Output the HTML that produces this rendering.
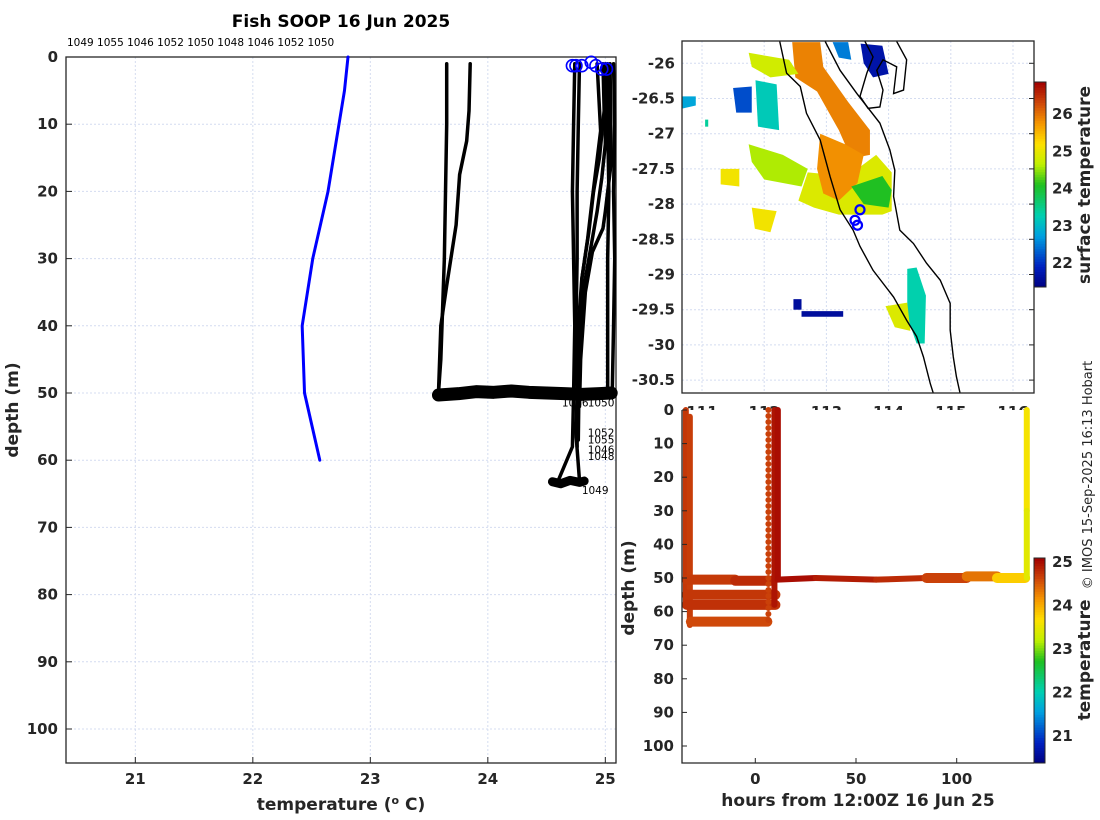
<!DOCTYPE html>
<html><head><meta charset="utf-8"><style>
html,body{margin:0;padding:0;background:#fff;}
svg{display:block;font-family:"DejaVu Sans","Liberation Sans",sans-serif;}
.tk{font-weight:bold;font-size:15px;fill:#262626;}
.ttl{font-weight:bold;font-size:17px;fill:#262626;}
</style></head><body>
<svg id="fig" width="1100" height="820" viewBox="0 0 1100 820" xmlns="http://www.w3.org/2000/svg">
<rect width="1100" height="820" fill="#fff"/>
<text x="341" y="27" text-anchor="middle" font-weight="bold" font-size="17" fill="#000">Fish SOOP 16 Jun 2025</text>
<text x="67" y="46" font-size="10.5" fill="#000">1049 1055 1046 1052 1050 1048 1046 1052 1050</text>
<text class="ttl" transform="translate(18,410) rotate(-90)" text-anchor="middle">depth (m)</text>
<text class="ttl" x="341" y="810" text-anchor="middle">temperature (<tspan font-size="11" dy="-6">o</tspan><tspan dy="6"> C)</tspan></text>
<text class="ttl" transform="translate(634,588) rotate(-90)" text-anchor="middle">depth (m)</text>
<text class="ttl" x="858" y="806" text-anchor="middle">hours from 12:00Z 16 Jun 25</text>
<text transform="translate(1092,475) rotate(-90)" text-anchor="middle" font-size="13" fill="#262626">© IMOS 15-Sep-2025 16:13 Hobart</text>
<text class="ttl" transform="translate(1090,185) rotate(-90)" text-anchor="middle">surface temperature</text>
<text class="ttl" transform="translate(1090,660) rotate(-90)" text-anchor="middle">temperature</text>
<g id="gL"></g><g id="gM"></g><g id="gB"></g>
</svg>
<script>
// ---------- data: left profile chart ----------
const tempTicks=[21,22,23,24,25];
const depthTicks=[0,10,20,30,40,50,60,70,80,90,100];
const blueTemp=[22.81,22.78,22.64,22.51,22.42,22.44,22.57];
const blueDepth=[0,5,20,30,40,50,60];
const prof1Temp=[23.65,23.65,23.64,23.63,23.61,23.6,23.58];
const prof1Depth=[1,10,20,30,40,45,50];
const prof2Temp=[23.85,23.84,23.82,23.76,23.73,23.65,23.6,23.58];
const prof2Depth=[1,8,12.5,17.5,25,34,40,50];
const prof3Temp=[24.93,24.96,24.89,24.85,24.8,24.77,24.76,24.76];
const prof3Depth=[1,11,21,27,33,40,50,58];
const prof4Temp=[25.0,25.0,24.97,24.93,24.88,24.82,24.78,24.77];
const prof4Depth=[1,13,18,23,28,34,43,57];
const prof5Temp=[25.04,25.05,25.0,24.98,24.89,24.83,24.79,24.78];
const prof5Depth=[1,15.7,23,25.5,29,35,45,52];
const prof6Temp=[24.74,24.73,24.72,24.73,24.74,24.73,24.72,24.6];
const prof6Depth=[1,10,20,30,40,50,58,63];
const prof7Temp=[24.78,24.77,24.76,24.76,24.75,24.76,24.75,24.78];
const prof7Depth=[1,10,20,30,40,50,56,63];
const prof8Temp=[25.02,25.02,25.03,25.02,25.02,25.02];
const prof8Depth=[1,10,20,30,40,50];
const prof9Temp=[25.07,25.08,25.07,25.08,25.07,25.06];
const prof9Depth=[1,10,20,30,40,49];
const prof10Temp=[24.98,24.99,24.95,24.9,24.86,24.8,24.78];
const prof10Depth=[1,8,15,20,26,33,45];
const band50Temp=[23.58,23.75,23.9,24.05,24.2,24.35,24.5,24.65,24.8,24.95,25.05];
const band50Depth=[50.3,50.1,49.8,49.9,49.7,49.9,50.0,50.1,50.2,50.1,50.0];
const band63Temp=[24.55,24.62,24.7,24.78,24.82];
const band63Depth=[63.2,63.5,63.0,63.3,63.1];
const circTemp=[24.72,24.75,24.8,24.88,24.92,24.97,25.01];
const circDepth=[1,1,1,0.5,1,1.5,1.5];
const idLabels=["1046","1050","1052","1055","1046","1048","1049"];
const idTemp=[24.63,24.85,24.85,24.85,24.85,24.85,24.8];
const idDepth=[52,52,56.5,57.5,59,60,65];

// ---------- data: map ----------
const lonTicks=[111,112,113,114,115,116];
const latTicks=[-26,-26.5,-27,-27.5,-28,-28.5,-29,-29.5,-30,-30.5];
const sstTicks=[22,23,24,25,26];
const patchTemp=[24.9,25.9,25.8,24.1,23.3,24.9,21.6,21.6,22.2,23.2,22.8,24.6,25.1,25.1,24.8,21.7,22.5,23.4];
const patchPoly=[
 [[112.7,-27.55],[113.3,-27.6],[113.5,-27.5],[113.8,-27.3],[114.05,-27.55],[114.05,-28.1],[113.9,-28.15],[113.2,-28.15],[112.8,-28.05],[112.55,-27.95]],
 [[112.45,-25.7],[112.9,-25.7],[112.95,-26.05],[113.35,-26.55],[113.7,-26.95],[113.7,-27.3],[113.4,-27.35],[113.2,-26.95],[112.85,-26.4],[112.5,-26.2]],
 [[112.9,-27.0],[113.3,-27.15],[113.6,-27.3],[113.5,-27.7],[113.2,-27.95],[112.95,-27.85],[112.85,-27.5]],
 [[113.4,-27.75],[113.9,-27.6],[114.05,-27.8],[114.0,-28.05],[113.6,-28.0]],
 [[114.3,-28.92],[114.45,-28.9],[114.6,-29.3],[114.58,-29.98],[114.45,-29.98],[114.3,-29.6]],
 [[113.95,-29.45],[114.3,-29.4],[114.35,-29.8],[114.1,-29.75]],
 [[112.47,-29.35],[112.6,-29.35],[112.6,-29.5],[112.47,-29.5]],
 [[112.6,-29.52],[113.27,-29.52],[113.27,-29.6],[112.6,-29.6]],
 [[111.5,-26.35],[111.8,-26.33],[111.8,-26.7],[111.55,-26.7]],
 [[111.86,-26.24],[112.2,-26.3],[112.24,-26.95],[111.9,-26.9]],
 [[110.6,-26.47],[110.9,-26.47],[110.9,-26.6],[110.6,-26.66]],
 [[111.75,-27.15],[112.3,-27.3],[112.7,-27.5],[112.6,-27.75],[112.0,-27.65],[111.8,-27.4]],
 [[111.3,-27.5],[111.6,-27.5],[111.6,-27.75],[111.3,-27.72]],
 [[111.8,-28.05],[112.2,-28.1],[112.1,-28.4],[111.85,-28.35]],
 [[111.75,-25.85],[112.4,-25.95],[112.55,-26.15],[112.1,-26.2],[111.8,-26.05]],
 [[113.55,-25.72],[113.9,-25.75],[114.0,-26.15],[113.75,-26.2],[113.6,-26.0]],
 [[113.1,-25.7],[113.35,-25.7],[113.4,-25.95],[113.2,-25.92]],
 [[111.05,-26.8],[111.1,-26.8],[111.1,-26.9],[111.05,-26.9]]
];
const coast1Lon=[112.25,112.36,112.58,112.68,112.9,113.06,113.22,113.43,113.54,113.75,114.08,114.29,114.45,114.56,114.67,114.72];
const coast1Lat=[-25.69,-26.14,-26.33,-26.71,-27.09,-27.61,-28.08,-28.37,-28.6,-28.94,-29.32,-29.65,-29.88,-30.17,-30.55,-30.69];
const coast2Lon=[112.98,113.22,113.49,113.86,114.02,114.1,114.08,114.18,114.4,114.61,114.83,114.99,114.99,115.04,115.09,115.15];
const coast2Lat=[-25.69,-26.1,-26.43,-26.85,-27.23,-27.52,-27.89,-28.37,-28.56,-28.84,-29.08,-29.41,-29.79,-30.17,-30.45,-30.69];
const bayLon=[113.62,113.75,113.65,113.54,113.67,113.86,113.91,113.81,113.91,114.13,114.08,114.24,114.29,114.13];
const bayLat=[-25.69,-25.91,-26.14,-26.47,-26.64,-26.62,-26.38,-26.1,-25.95,-26.05,-26.43,-26.38,-25.95,-25.69];
const stnLon=[113.54,113.46,113.5];
const stnLat=[-28.08,-28.23,-28.3];

// ---------- data: time-depth chart ----------
const hourTicks=[0,50,100];
const tcTicks=[21,22,23,24,25];
const segT0=[-34.5,-32.5,-34,-10,-34,-34,-32,6.5,9.5,11.2,11,30,60,85,105,120,134.8,134.8];
const segT1=[-34.5,-32.5,-10,8,10,10,6,6.5,9.5,11.2,30,60,85,105,120,134,134.8,134.8];
const segD0=[0,2,50.5,50.8,55,58,63,0,0,0,50.5,50,50.5,50,49.5,50,0,30];
const segD1=[58,64,50.5,50.8,55,58,63,63,58,50,50,50.5,50,50,49.5,50,30,50];
const segTemp=[24.72,24.68,24.7,24.8,24.72,24.76,24.6,24.65,24.95,25.0,25.0,24.9,24.8,24.65,24.35,23.8,23.6,23.45];

// ---------- helpers ----------
const NS='http://www.w3.org/2000/svg';
function mk(tag,attrs,parent){const e=document.createElementNS(NS,tag);for(const k in attrs)e.setAttribute(k,attrs[k]);parent.appendChild(e);return e;}
const stops=[[0,[0,0,128]],[0.1,[0,32,192]],[0.25,[0,160,224]],[0.35,[0,208,176]],[0.5,[32,192,32]],[0.6,[192,240,0]],[0.7,[255,224,0]],[0.8,[245,150,0]],[0.9,[205,70,10]],[1,[160,0,0]]];
function cmap(t){t=Math.max(0,Math.min(1,t));for(let i=1;i<stops.length;i++){if(t<=stops[i][0]){const a=stops[i-1],b=stops[i];const f=(t-a[0])/(b[0]-a[0]);const c=a[1].map((v,j)=>Math.round(v+(b[1][j]-v)*f));return 'rgb('+c.join(',')+')';}}return 'rgb(160,0,0)';}

// ---------- left chart ----------
const gL=document.getElementById('gL');
const L={x0:66,x1:616,y0:57,y1:763};
const xL=t=>66+(t-20.41)*117.5, yL=d=>57+d*6.72;
tempTicks.forEach(t=>{
 const g=mk('line',{x1:xL(t),x2:xL(t),y1:L.y0,y2:L.y1,stroke:'#d4dcf0','stroke-dasharray':'2,2'},gL);
 
 
 const tk=mk('line',{x1:xL(t),x2:xL(t),y1:L.y1,y2:L.y1-6,stroke:'#262626'},gL);
 
 
 const tx=mk('text',{x:xL(t),y:784,'text-anchor':'middle',class:'tk'},gL);tx.textContent=t;
 
 
});
depthTicks.forEach(d=>{
 const g=mk('line',{x1:L.x0,x2:L.x1,y1:yL(d),y2:yL(d),stroke:'#d4dcf0','stroke-dasharray':'2,2'},gL);
 
 
 const tk=mk('line',{x1:L.x0,x2:L.x0+6,y1:yL(d),y2:yL(d),stroke:'#262626'},gL);
 
 
 const tx=mk('text',{x:58,y:yL(d)+5,'text-anchor':'end',class:'tk'},gL);tx.textContent=d;
 
 
});
const boxL=mk('rect',{x:L.x0,y:L.y0,width:L.x1-L.x0,height:L.y1-L.y0,fill:'none',stroke:'#262626','stroke-width':1.3},gL);


function polyL(ts,ds,col,w){return mk('polyline',{points:ts.map((t,i)=>xL(t)+','+yL(ds[i])).join(' '),fill:'none',stroke:col,'stroke-width':w,'stroke-linejoin':'round','stroke-linecap':'round'},gL);}
const profs=[[prof1Temp,prof1Depth],[prof2Temp,prof2Depth],[prof3Temp,prof3Depth],[prof4Temp,prof4Depth],[prof5Temp,prof5Depth],[prof6Temp,prof6Depth],[prof7Temp,prof7Depth],[prof8Temp,prof8Depth],[prof9Temp,prof9Depth],[prof10Temp,prof10Depth]];
profs.forEach(p=>{const e=polyL(p[0],p[1],'#000',3.5);
 
 });
const b50=polyL(band50Temp,band50Depth,'#000',13);


const b63=polyL(band63Temp,band63Depth,'#000',9);


const bl=polyL(blueTemp,blueDepth,'#0000ff',3);


circTemp.forEach((t,i)=>{const c=mk('circle',{cx:xL(t),cy:yL(circDepth[i])+2,r:6,fill:'none',stroke:'#0000ff','stroke-width':1.6},gL);
 
 });
idLabels.forEach((s,i)=>{const tx=mk('text',{x:xL(idTemp[i]),y:yL(idDepth[i]),'font-size':10.5,fill:'#000'},gL);tx.textContent=s;
 
 });

// ---------- map ----------
const gM=document.getElementById('gM');
const M={x0:682,x1:1034,y0:41,y1:393};
const xM=lon=>702+(lon-111)*62.2, yM=lat=>63.3+(-26-lat)*70.4;
const cpM=mk('clipPath',{id:'clipM'},gM);mk('rect',{x:M.x0,y:M.y0,width:M.x1-M.x0,height:M.y1-M.y0},cpM);
const inner=mk('g',{'clip-path':'url(#clipM)'},gM);
lonTicks.forEach(l=>{const g=mk('line',{x1:xM(l),x2:xM(l),y1:M.y0,y2:M.y1,stroke:'#d4dcf0','stroke-dasharray':'2,2'},inner);
 
 });
latTicks.forEach(l=>{const g=mk('line',{x1:M.x0,x2:M.x1,y1:yM(l),y2:yM(l),stroke:'#d4dcf0','stroke-dasharray':'2,2'},inner);
 
 
 const tk=mk('line',{x1:M.x1,x2:M.x1-5,y1:yM(l),y2:yM(l),stroke:'#262626'},gM);
 
 
 const tx=mk('text',{x:675,y:yM(l)+5,'text-anchor':'end',class:'tk'},gM);tx.textContent=l;
 
 });
const sstScale=t=>(t-21.36)/(26.86-21.36);
patchPoly.forEach((p,i)=>{const e=mk('polygon',{points:p.map(q=>xM(q[0])+','+yM(q[1])).join(' '),fill:cmap(sstScale(patchTemp[i]))},inner);
 
 });
[[coast1Lon,coast1Lat],[coast2Lon,coast2Lat],[bayLon,bayLat]].forEach(c=>{const e=mk('polyline',{points:c[0].map((l,i)=>xM(l)+','+yM(c[1][i])).join(' '),fill:'none',stroke:'#000','stroke-width':1.4},inner);
 
 });
stnLon.forEach((l,i)=>{const c=mk('circle',{cx:xM(l),cy:yM(stnLat[i]),r:4.5,fill:'none',stroke:'#0000ff','stroke-width':2.2},inner);
 
 });
lonTicks.forEach(l=>{const tx=mk('text',{x:xM(l),y:417,'text-anchor':'middle',class:'tk'},gM);tx.textContent=l;
 
 });
const boxM=mk('rect',{x:M.x0,y:M.y0,width:M.x1-M.x0,height:M.y1-M.y0,fill:'none',stroke:'#262626','stroke-width':1.3},gM);


const cbM={x:1034,w:12,y0:82,y1:287,v0:21.36,v1:26.86};
for(let i=0;i<80;i++){const r=mk('rect',{x:cbM.x,y:cbM.y1-(i+1)*(cbM.y1-cbM.y0)/80,width:cbM.w,height:(cbM.y1-cbM.y0)/80+0.5,fill:cmap((i+0.5)/80)},gM);
 
 }
const cbMf=mk('rect',{x:cbM.x,y:cbM.y0,width:cbM.w,height:cbM.y1-cbM.y0,fill:'none',stroke:'#262626'},gM);


sstTicks.forEach(v=>{const y=cbM.y1-(v-cbM.v0)/(cbM.v1-cbM.v0)*(cbM.y1-cbM.y0);
 const tx=mk('text',{x:1052,y:y+5,class:'tk'},gM);tx.textContent=v;
 
 });

// ---------- time-depth chart ----------
const gB=document.getElementById('gB');
const B={x0:682,x1:1034,y0:410,y1:763};
const xB=h=>755.3+h*2.014, yB=d=>410+d*3.36;
const bg=mk('rect',{x:B.x0,y:B.y0,width:B.x1-B.x0,height:B.y1-B.y0,fill:'#fff'},gB);


const tcScale=t=>(t-20.38)/(25.09-20.38);
segT0.forEach((t,i)=>{
 const e=mk('line',{x1:xB(t),y1:yB(segD0[i]),x2:xB(segT1[i]),y2:yB(segD1[i]),stroke:cmap(tcScale(segTemp[i])),'stroke-width':(segD0[i]===segD1[i])?10:6,'stroke-linecap':'round'},gB);
 if(i===7)e.setAttribute('stroke-dasharray','0 6');
 
 });
depthTicks.forEach(d=>{const tk=mk('line',{x1:B.x0,x2:B.x0+5,y1:yB(d),y2:yB(d),stroke:'#262626'},gB);
 
 
 const tx=mk('text',{x:674,y:yB(d)+5,'text-anchor':'end',class:'tk'},gB);tx.textContent=d;
 
 });
hourTicks.forEach(h=>{const tk=mk('line',{x1:xB(h),x2:xB(h),y1:B.y1,y2:B.y1-5,stroke:'#262626'},gB);
 
 
 const tx=mk('text',{x:xB(h),y:784,'text-anchor':'middle',class:'tk'},gB);tx.textContent=h;
 
 });
const axL=mk('polyline',{points:B.x0+','+B.y0+' '+B.x0+','+B.y1+' '+B.x1+','+B.y1,fill:'none',stroke:'#262626','stroke-width':1.3},gB);


const cbB={x:1034,w:11,y0:558,y1:763,v0:20.38,v1:25.09};
for(let i=0;i<80;i++){const r=mk('rect',{x:cbB.x,y:cbB.y1-(i+1)*(cbB.y1-cbB.y0)/80,width:cbB.w,height:(cbB.y1-cbB.y0)/80+0.5,fill:cmap((i+0.5)/80)},gB);
 
 }
const cbBf=mk('rect',{x:cbB.x,y:cbB.y0,width:cbB.w,height:cbB.y1-cbB.y0,fill:'none',stroke:'#262626'},gB);


tcTicks.forEach(v=>{const y=cbB.y1-(v-cbB.v0)/(cbB.v1-cbB.v0)*(cbB.y1-cbB.y0);
 const tx=mk('text',{x:1052,y:y+5,class:'tk'},gB);tx.textContent=v;
 
 });
</script>
</body></html>
